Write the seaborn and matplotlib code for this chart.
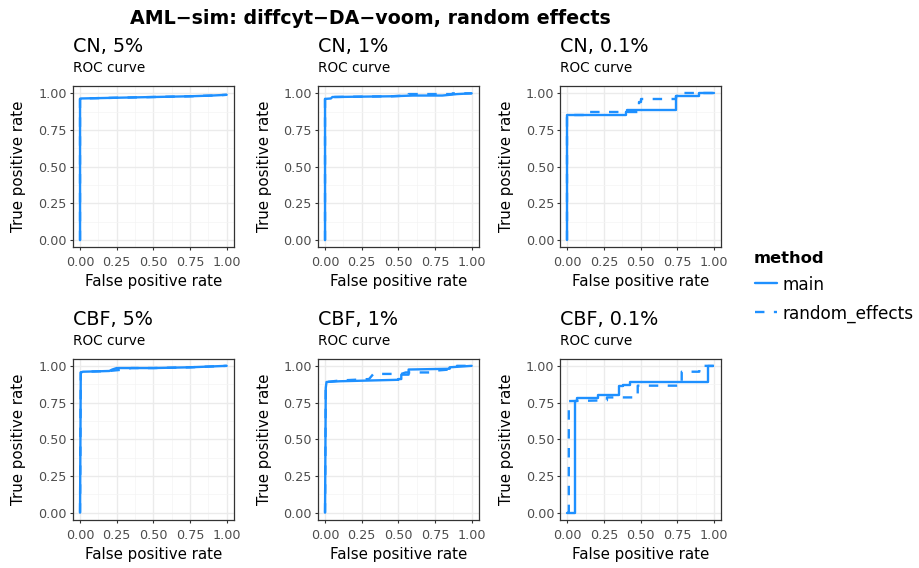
import numpy as np
import pandas as pd
import seaborn as sns
import matplotlib
matplotlib.use("Agg")
import matplotlib.pyplot as plt
from matplotlib.lines import Line2D
from matplotlib.ticker import MultipleLocator

sns.set_theme(style="whitegrid")
plt.rcParams["font.family"] = ["DejaVu Sans"]
plt.rcParams["text.color"] = "black"

# ROC curve corner points (FPR, TPR) per panel and method
panel_titles = ["CN, 5%", "CN, 1%", "CN, 0.1%", "CBF, 5%", "CBF, 1%", "CBF, 0.1%"]
methods = ["main", "random_effects"]

cn5_main_fpr = [0, 0, 0.005, 0.25, 0.5, 0.75, 0.9, 1.0]
cn5_main_tpr = [0, 0.962, 0.965, 0.97, 0.975, 0.98, 0.985, 0.99]
cn5_re_fpr = [0, 0, 0.005, 0.25, 0.5, 0.75, 0.9, 1.0]
cn5_re_tpr = [0, 0.962, 0.965, 0.97, 0.975, 0.98, 0.985, 0.99]

cn1_main_fpr = [0, 0, 0.04, 0.05, 0.45, 0.6, 0.8, 0.9, 1.0]
cn1_main_tpr = [0, 0.962, 0.965, 0.975, 0.98, 0.985, 0.985, 0.995, 1.0]
cn1_re_fpr = [0, 0, 0.04, 0.05, 0.45, 0.57, 0.57, 0.87, 0.87, 1.0]
cn1_re_tpr = [0, 0.962, 0.965, 0.975, 0.98, 0.985, 0.995, 0.995, 1.0, 1.0]

cn01_main_fpr = [0, 0, 0.40, 0.40, 0.41, 0.41, 0.74, 0.74, 0.90, 0.90, 1.0]
cn01_main_tpr = [0, 0.853, 0.853, 0.87, 0.87, 0.889, 0.889, 0.98, 0.98, 1.0, 1.0]
cn01_re_fpr = [0, 0, 0.12, 0.12, 0.49, 0.49, 0.50, 0.50, 0.74, 0.74, 0.77, 0.77, 1.0]
cn01_re_tpr = [0, 0.855, 0.855, 0.87, 0.87, 0.94, 0.94, 0.96, 0.96, 0.98, 0.98, 1.0, 1.0]

cbf5_main_fpr = [0, 0.005, 0.02, 0.1, 0.2, 0.22, 0.25, 0.5, 0.75, 1.0]
cbf5_main_tpr = [0, 0.955, 0.96, 0.962, 0.965, 0.975, 0.985, 0.985, 0.99, 1.0]
cbf5_re_fpr = [0, 0.005, 0.02, 0.1, 0.2, 0.3, 0.35, 0.5, 0.75, 1.0]
cbf5_re_tpr = [0, 0.955, 0.96, 0.962, 0.965, 0.975, 0.985, 0.985, 0.99, 1.0]

cbf1_main_fpr = [0, 0.005, 0.01, 0.1, 0.3, 0.50, 0.50, 0.52, 0.52, 0.57, 0.57, 0.85, 0.85, 1.0]
cbf1_main_tpr = [0, 0.85, 0.89, 0.895, 0.90, 0.905, 0.91, 0.91, 0.94, 0.94, 0.975, 0.98, 0.99, 1.0]
cbf1_re_fpr = [0, 0.005, 0.01, 0.1, 0.3, 0.33, 0.52, 0.55, 0.72, 0.75, 0.85, 0.9, 1.0]
cbf1_re_tpr = [0, 0.87, 0.89, 0.90, 0.91, 0.945, 0.945, 0.955, 0.955, 0.967, 0.975, 1.0, 1.0]

cbf01_main_fpr = [0, 0.05, 0.05, 0.065, 0.065, 0.21, 0.21, 0.35, 0.35, 0.38, 0.38, 0.43, 0.43, 0.96, 0.96, 0.99]
cbf01_main_tpr = [0, 0, 0.76, 0.76, 0.78, 0.78, 0.80, 0.80, 0.86, 0.86, 0.87, 0.87, 0.89, 0.89, 1.0, 1.0]
cbf01_re_fpr = [0, 0.01, 0.01, 0.27, 0.27, 0.48, 0.48, 0.78, 0.78, 0.9, 0.9, 1.0]
cbf01_re_tpr = [0, 0, 0.76, 0.765, 0.785, 0.785, 0.865, 0.865, 0.96, 0.96, 1.0, 1.0]

curves = [
    ((cn5_main_fpr, cn5_main_tpr), (cn5_re_fpr, cn5_re_tpr)),
    ((cn1_main_fpr, cn1_main_tpr), (cn1_re_fpr, cn1_re_tpr)),
    ((cn01_main_fpr, cn01_main_tpr), (cn01_re_fpr, cn01_re_tpr)),
    ((cbf5_main_fpr, cbf5_main_tpr), (cbf5_re_fpr, cbf5_re_tpr)),
    ((cbf1_main_fpr, cbf1_main_tpr), (cbf1_re_fpr, cbf1_re_tpr)),
    ((cbf01_main_fpr, cbf01_main_tpr), (cbf01_re_fpr, cbf01_re_tpr)),
]

tick_vals = [0.0, 0.25, 0.5, 0.75, 1.0]
tick_labels = ["0.00", "0.25", "0.50", "0.75", "1.00"]

line_color = "#1E90FF"
palette = {m: line_color for m in methods}
dashes = {"main": "", "random_effects": (4, 4)}
LW = 1.7

W, H = 919, 568
fig = plt.figure(figsize=(W / 100, H / 100), dpi=100)
fig.patch.set_facecolor("white")


def fx(px):
    return px / W


def fy(py):
    return 1 - py / H


col_lefts = [72.7, 317.7, 560.0]
row_tops = [86.0, 358.5]
ax_w, ax_h = 161.3, 161.5

for i, title in enumerate(panel_titles):
    r, c = divmod(i, 3)
    left, top = col_lefts[c], row_tops[r]
    bottom = top + ax_h
    ax = fig.add_axes([fx(left), fy(bottom), ax_w / W, ax_h / H])
    rows = []
    for m, (xs, ys) in zip(methods, curves[i]):
        for a, b in zip(xs, ys):
            rows.append({"FPR": a, "TPR": b, "method": m})
    df = pd.DataFrame(rows)
    sns.lineplot(data=df, x="FPR", y="TPR", hue="method", style="method",
                 palette=palette, dashes=dashes, sort=False, estimator=None,
                 linewidth=LW, legend=False, ax=ax)
    ax.set_xlim(-0.05, 1.05)
    ax.set_ylim(-0.05, 1.05)
    ax.set_facecolor("white")
    ax.xaxis.set_minor_locator(MultipleLocator(0.125))
    ax.yaxis.set_minor_locator(MultipleLocator(0.125))
    ax.set_xticks(tick_vals)
    ax.set_yticks(tick_vals)
    ax.set_xticklabels(tick_labels)
    ax.set_yticklabels(tick_labels)
    ax.grid(which="major", color="#EBEBEB", linewidth=1.0)
    ax.grid(which="minor", color="#F4F4F4", linewidth=0.5)
    ax.set_axisbelow(True)
    for s in ax.spines.values():
        s.set_color("#333333")
        s.set_linewidth(0.9)
        s.set_visible(True)
    ax.tick_params(which="major", length=2.2, width=0.8, color="#333333",
                   labelsize=9.2, labelcolor="#4D4D4D", direction="out",
                   bottom=True, left=True)
    ax.tick_params(axis="x", which="major", pad=4.2)
    ax.tick_params(axis="y", which="major", pad=2)
    ax.tick_params(which="minor", length=0)
    ax.set_xlabel("False positive rate", fontsize=10.8, color="black")
    ax.set_ylabel("True positive rate", fontsize=10.8, color="black")
    ax.xaxis.set_label_coords(fx(left + ax_w / 2), fy(bottom + 34),
                              transform=fig.transFigure)
    ax.xaxis.label.set_va("center")
    ax.yaxis.set_label_coords(fx(left - 53.7), fy(top + ax_h / 2),
                              transform=fig.transFigure)
    ax.yaxis.label.set_va("center")
    fig.text(fx(left), fy(top - 33.5), title, fontsize=13.8,
             ha="left", va="baseline")
    fig.text(fx(left + 0.5), fy(top - 13.5), "ROC curve", fontsize=9.8,
             ha="left", va="baseline")

fig.text(fx(370), fy(24), "AML\u2212sim: diffcyt\u2212DA\u2212voom, random effects",
         fontsize=13.7, fontweight="bold", ha="center", va="baseline")

# legend for the line styles
fig.text(fx(754), fy(262.7), "method", fontsize=11.8, fontweight="bold",
         ha="left", va="baseline")
legend_rows = [("main", "-", 282.7), ("random_effects", (0, (4, 4)), 311.7)]
for label, ls, yy in legend_rows:
    fig.add_artist(Line2D([fx(755), fx(777)], [fy(yy), fy(yy)],
                          color=line_color, linewidth=LW, linestyle=ls,
                          transform=fig.transFigure))
    fig.text(fx(783), fy(yy), label, fontsize=12.2, ha="left", va="center_baseline")

fig.savefig("out.png", dpi=100, facecolor="white")
